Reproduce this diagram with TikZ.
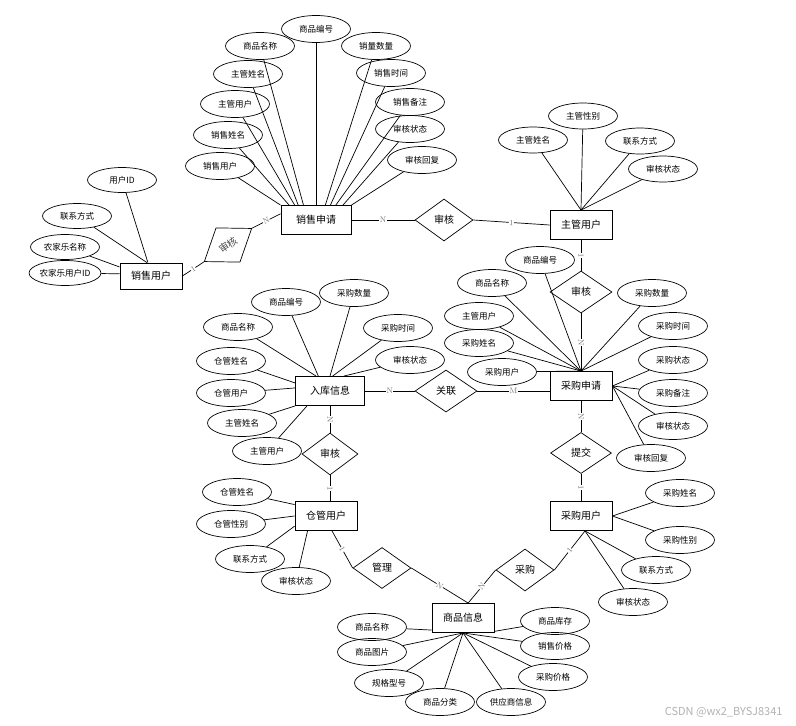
\documentclass[tikz,border=0pt]{standalone}
\usepackage{fontspec}
\newfontfamily\cjk{Noto Sans CJK SC}
\usetikzlibrary{shapes.geometric}

\tikzset{
  attr/.style={ellipse,draw,line width=.7pt,minimum width=69pt,minimum height=27pt,
               inner sep=0pt,font=\cjk\fontsize{8.5}{9}\selectfont},
  ent/.style={draw,line width=.9pt,minimum width=62pt,minimum height=29pt,
              inner sep=0pt,font=\cjk\fontsize{10}{11}\selectfont},
  rel/.style={diamond,draw,line width=.7pt,minimum width=58pt,minimum height=42pt,
              inner sep=0pt,font=\cjk\fontsize{10}{11}\selectfont},
  card/.style={midway,sloped,fill=white,inner sep=.4pt,text=black!55,
               font=\fontsize{8}{8}\selectfont},
  link/.style={line width=.7pt}
}

\begin{document}
\begin{tikzpicture}[x=1pt,y=-1pt]
  \useasboundingbox (0,0) rectangle (796,726);
  % entities
  \node[ent,minimum width=70pt] (xs) at (316,220) {销售申请};
  \node[ent,minimum height=26pt] (xy) at (151,276) {销售用户};
  \node[ent] (zg) at (581,225) {主管用户};
  \node[ent,minimum width=69pt] (rk) at (330,391) {入库信息};
  \node[ent] (cs) at (581,386) {采购申请};
  \node[ent] (ck) at (326,516) {仓管用户};
  \node[ent] (cg) at (581,516) {采购用户};
  \node[ent] (sp) at (463,618) {商品信息};
  % relationships
  \node[rel,rotate=35,text=black!70] (sh1) at (228,245) {审核};
  \node[rel] (sh2) at (444,220) {审核};
  \node[rel,minimum width=62pt] (sh3) at (581,292) {审核};
  \node[rel,minimum width=62pt] (gl) at (446,391) {关联};
  \node[rel,minimum width=56pt] (sh4) at (330,454) {审核};
  \node[rel,minimum width=61pt,minimum height=41pt] (tj) at (581,453) {提交};
  \node[rel,minimum height=41pt] (gli) at (382,568) {管理};
  \node[rel] (cgr) at (525,570) {采购};
  % links with cardinality
  \draw[link] (xy.east) -- (sh1.west) node[card] {1};
  \draw[link] (sh1.east) -- (xs.170) node[card] {N};
  \draw[link] (xs.east) -- (sh2.west) node[card] {N};
  \draw[link] (sh2.east) -- (zg.west) node[card] {1};
  \draw[link] (zg.south) -- (sh3.north) node[card] {1};
  \draw[link] (sh3.south) -- (cs.north) node[card] {N};
  \draw[link] (rk.east) -- (gl.west) node[card] {N};
  \draw[link] (gl.east) -- (gl.east -| cs.west) node[card] {M};
  \draw[link] (rk.south) -- (sh4.north) node[card] {N};
  \draw[link] (sh4.south) -- (sh4.south |- ck.north) node[card] {1};
  \draw[link] (cs.south) -- (tj.north) node[card] {N};
  \draw[link] (tj.south) -- (cg.north) node[card] {1};
  \draw[link] (ck.-68) -- (gli.west) node[card] {1};
  \draw[link] (gli.east) -- (sp.71) node[card] {N};
  \draw[link] (cg.-75) -- (cgr.east) node[card] {1};
  \draw[link] (cgr.west) -- (sp.71) node[card] {N};
  % attributes
  \foreach \nm/\x/\y/\txt/\anc in {
      xs1/316/29/商品编号/north, xs2/260/46/商品名称/130,
      xs3/248/74/主管姓名/140, xs4/235/104/主管用户/145,
      xs5/228/135/销售姓名/151, xs6/220/166/销售用户/north west,
      xs7/376/46/销量数量/58, xs8/391/73/销售时间/46,
      xs9/410/102/销售备注/37, xs10/410/129/审核状态/29,
      xs11/422/160/审核回复/north east}
    {\node[attr] (\nm) at (\x,\y) {\txt};
     \draw[link] (\nm) -- (xs.\anc);}
  \foreach \nm/\x/\y/\txt/\anc in {
      xy1/122/180/用户ID/103, xy2/77/216/联系方式/107,
      xy3/65/247/农家乐名称/164, xy4/65/273/农家乐用户ID/176}
    {\node[attr,minimum height=25pt] (\nm) at (\x,\y) {\txt};
     \draw[link] (\nm) -- (xy.\anc);}
  \foreach \nm/\x/\y/\txt in {
      zg1/533/140/主管姓名, zg2/583/116/主管性别,
      zg3/640/141/联系方式, zg4/663/169/审核状态}
    {\node[attr,minimum height=26pt] (\nm) at (\x,\y) {\txt};
     \draw[link] (\nm) -- (zg.north);}
  \foreach \nm/\x/\y/\txt/\anc in {
      rk1/286/302/商品编号/128, rk2/354/293/采购数量/north,
      rk3/398/328/采购时间/80, rk4/410/360/审核状态/47,
      rk5/238/327/商品名称/133, rk6/231/361/仓管姓名/167,
      rk7/231/393/仓管用户/175, rk8/242/423/主管姓名/south west,
      rk9/267/451/主管用户/213}
    {\node[attr] (\nm) at (\x,\y) {\txt};
     \draw[link] (\nm) -- (rk.\anc);}
  \foreach \nm/\x/\y/\txt/\anc in {
      cs1/540/260/商品编号/north, cs2/492/283/商品名称/north,
      cs3/479/316/主管用户/north, cs4/479/343/采购姓名/north,
      cs5/502/372/采购用户/north, cs6/652/293/采购数量/north,
      cs7/673/326/采购时间/north, cs8/673/360/采购状态/east,
      cs9/673/393/采购备注/east, cs10/673/426/审核状态/east,
      cs11/651/458/审核回复/east}
    {\node[attr] (\nm) at (\x,\y) {\txt};
     \draw[link] (\nm) -- (cs.\anc);}
  \foreach \nm/\x/\y/\txt/\anc in {
      ck1/237/492/仓管姓名/160, ck2/231/524/仓管性别/west,
      ck3/250/559/联系方式/198, ck4/296/581/审核状态/-141}
    {\node[attr] (\nm) at (\x,\y) {\txt};
     \draw[link] (\nm) -- (ck.\anc);}
  \foreach \nm/\x/\y/\txt/\anc in {
      cg1/680/493/采购姓名/east, cg2/680/540/采购性别/east,
      cg3/656/570/联系方式/-75, cg4/633/602/审核状态/-75}
    {\node[attr] (\nm) at (\x,\y) {\txt};
     \draw[link] (\nm) -- (cg.\anc);}
  \foreach \nm/\x/\y/\txt/\anc in {
      sp1/372/627/商品名称/201, sp2/372/652/商品图片/south,
      sp3/389/683/规格型号/south, sp4/440/702/商品分类/south,
      sp5/511/702/供应商信息/south, sp6/553/677/采购价格/south,
      sp7/555/646/销售价格/south, sp8/555/621/商品库存/-23}
    {\node[attr] (\nm) at (\x,\y) {\txt};
     \draw[link] (\nm) -- (sp.\anc);}
  % watermark
  \node[anchor=east,text=gray!60,font=\cjk\fontsize{11}{12}\selectfont] (wm)
       at (786,712) {CSDN @wx2\_BYSJ8341};
\end{tikzpicture}
\end{document}
